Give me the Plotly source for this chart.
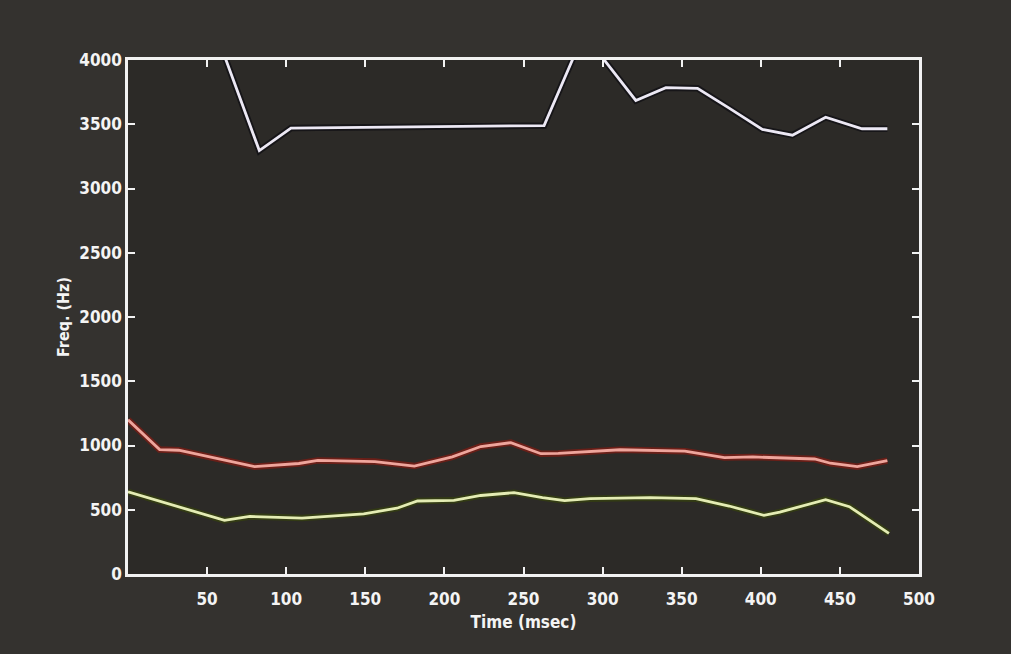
import plotly.graph_objects as go

# Formant tracks (time in msec, frequency in Hz)
t_f3 = [0, 50, 83, 103, 263, 290, 296, 321, 340, 360, 380, 401, 420, 441, 464, 480]
f3 = [4400, 4400, 3295, 3470, 3490, 4260, 4080, 3685, 3785, 3780, 3625, 3460, 3415, 3555, 3465, 3465]

t_f2 = [0, 20, 32, 55, 80, 108, 120, 156, 181, 205, 223, 242, 261, 272, 311, 352, 377, 395, 412, 434, 444, 461, 480]
f2 = [1200, 968, 963, 900, 835, 860, 884, 875, 840, 912, 992, 1022, 936, 938, 967, 956, 906, 911, 905, 895, 862, 835, 882]

t_f1 = [0, 30, 61, 77, 110, 149, 170, 183, 206, 223, 244, 262, 276, 292, 330, 359, 380, 402, 412, 441, 456, 481]
f1 = [640, 530, 417, 448, 435, 468, 512, 568, 573, 611, 633, 595, 571, 586, 594, 586, 529, 456, 482, 578, 524, 316]

x_ticks = [50, 100, 150, 200, 250, 300, 350, 400, 450, 500]
y_ticks = [0, 500, 1000, 1500, 2000, 2500, 3000, 3500, 4000]

FONT = "DejaVu Sans Condensed, Liberation Sans Narrow, sans-serif"

fig = go.Figure()
series = [
    (t_f3, f3, "#161518", "#ece8f4"),
    (t_f2, f2, "#6a1f18", "#eea59c"),
    (t_f1, f1, "#333b14", "#e4ecb4"),
]
for t, f, halo, core in series:
    fig.add_trace(go.Scatter(x=t, y=f, mode="lines", line=dict(color=halo, width=6.5),
                             hoverinfo="skip", showlegend=False))
    fig.add_trace(go.Scatter(x=t, y=f, mode="lines", line=dict(color=core, width=2.8),
                             showlegend=False))

axis_common = dict(
    showline=True, linecolor="#f2f2f2", linewidth=2.5, mirror="ticks",
    ticks="inside", ticklen=7, tickwidth=2, tickcolor="#f2f2f2",
    showgrid=False, zeroline=False,
    tickfont=dict(family=FONT, size=17, color="#f4f4f4", weight="bold"),
)

fig.update_layout(
    width=1011, height=654,
    paper_bgcolor="#34322f",
    plot_bgcolor="#2c2a27",
    margin=dict(l=128, r=92, t=60, b=80),
    xaxis=dict(range=[0, 500], tickvals=x_ticks, ticklabelstandoff=8,
               title=dict(text="Time (msec)", standoff=8,
                          font=dict(family=FONT, size=17, color="#f4f4f4", weight="bold")),
               **axis_common),
    yaxis=dict(range=[0, 4000], tickvals=y_ticks,
               title=dict(text="Freq. (Hz)", standoff=6,
                          font=dict(family=FONT, size=16, color="#f4f4f4", weight="bold")),
               **axis_common),
)

fig.write_html("out.html", config={"displayModeBar": False},
               post_script="document.body.style.margin='0';document.body.style.background='#34322f';")
